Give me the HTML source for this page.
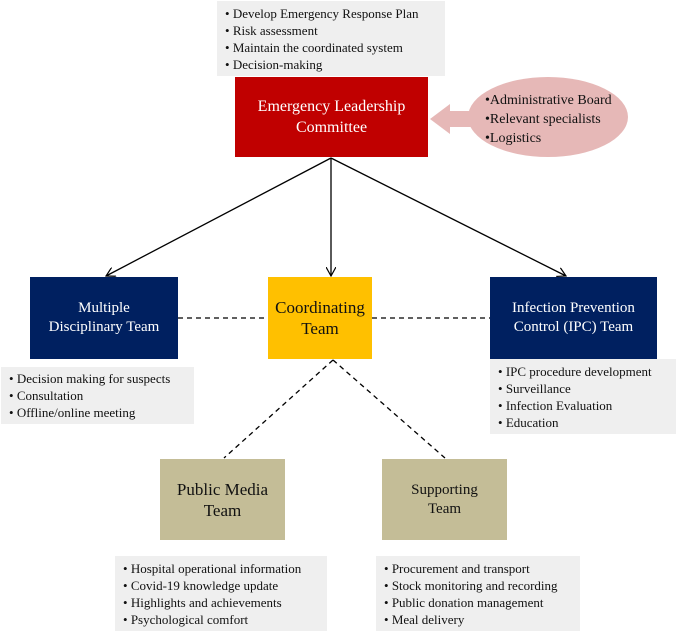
<!DOCTYPE html>
<html><head><style>
body{margin:0;width:677px;height:633px;background:#fff;position:relative;overflow:hidden;font-family:"Liberation Serif",serif;}
.a{position:absolute;box-sizing:border-box;}
.box{display:flex;align-items:center;justify-content:center;text-align:center;line-height:19px;font-size:15px;}
.list{background:#efefef;font-size:13px;line-height:17px;padding:3px 0 0 8px;color:#111;}
.list div:before{content:"• ";}
</style></head><body>
<svg class="a" style="left:0;top:0" width="677" height="633">
<defs><marker id="m" markerWidth="10" markerHeight="10" refX="9" refY="5" orient="auto" markerUnits="userSpaceOnUse"><path d="M0,0 L9,5 L0,10" fill="none" stroke="#000" stroke-width="1.2"/></marker></defs>
<ellipse cx="548" cy="117" rx="80" ry="40" fill="#e6b8b7"/>
<polygon points="430,119 450,104 450,111 472,111 472,127 450,127 450,134" fill="#e6b8b7"/>
<g stroke="#000" stroke-width="1.3" fill="none">
<line x1="331" y1="158" x2="106" y2="276" marker-end="url(#m)"/>
<line x1="331" y1="158" x2="331" y2="276" marker-end="url(#m)"/>
<line x1="331" y1="158" x2="566" y2="276" marker-end="url(#m)"/>
<g stroke-dasharray="5,4">
<line x1="178" y1="318" x2="268" y2="318"/>
<line x1="372" y1="318" x2="490" y2="318"/>
<line x1="333" y1="360" x2="224" y2="458"/>
<line x1="333" y1="360" x2="445" y2="458"/>
</g></g>
</svg>
<div class="a list" style="left:217px;top:1px;width:228px;height:75px;padding-top:4px"><div>Develop Emergency Response Plan</div><div>Risk assessment</div><div>Maintain the coordinated system</div><div>Decision-making</div></div>
<div class="a box" style="left:235px;top:77px;width:193px;height:80px;background:#c00000;color:#fff;font-size:16px;line-height:21px">Emergency Leadership<br>Committee</div>
<div class="a" style="left:485px;top:91px;font-size:14px;line-height:19px;color:#111"><div>•Administrative Board</div><div>•Relevant specialists</div><div>•Logistics</div></div>
<div class="a box" style="left:30px;top:277px;width:148px;height:82px;background:#002060;color:#fff;">Multiple<br>Disciplinary Team</div>
<div class="a box" style="left:268px;top:277px;width:104px;height:82px;background:#ffc000;color:#111;font-size:17px;line-height:21px">Coordinating<br>Team</div>
<div class="a box" style="left:490px;top:277px;width:167px;height:82px;background:#002060;color:#fff;">Infection Prevention<br>Control (IPC) Team</div>
<div class="a list" style="left:1px;top:367px;width:193px;height:57px"><div>Decision making for suspects</div><div>Consultation</div><div>Offline/online meeting</div></div>
<div class="a list" style="left:490px;top:359px;width:186px;height:75px;padding-top:4px"><div>IPC procedure development</div><div>Surveillance</div><div>Infection Evaluation</div><div>Education</div></div>
<div class="a box" style="left:160px;top:459px;width:125px;height:81px;background:#c4bd97;color:#111;font-size:17px;line-height:21px">Public Media<br>Team</div>
<div class="a box" style="left:382px;top:459px;width:125px;height:81px;background:#c4bd97;color:#111;">Supporting<br>Team</div>
<div class="a list" style="left:115px;top:556px;width:212px;height:75px;padding-top:4px"><div>Hospital operational information</div><div>Covid-19 knowledge update</div><div>Highlights and achievements</div><div>Psychological comfort</div></div>
<div class="a list" style="left:376px;top:556px;width:204px;height:75px;padding-top:4px"><div>Procurement and transport</div><div>Stock monitoring and recording</div><div>Public donation management</div><div>Meal delivery</div></div>
</body></html>
